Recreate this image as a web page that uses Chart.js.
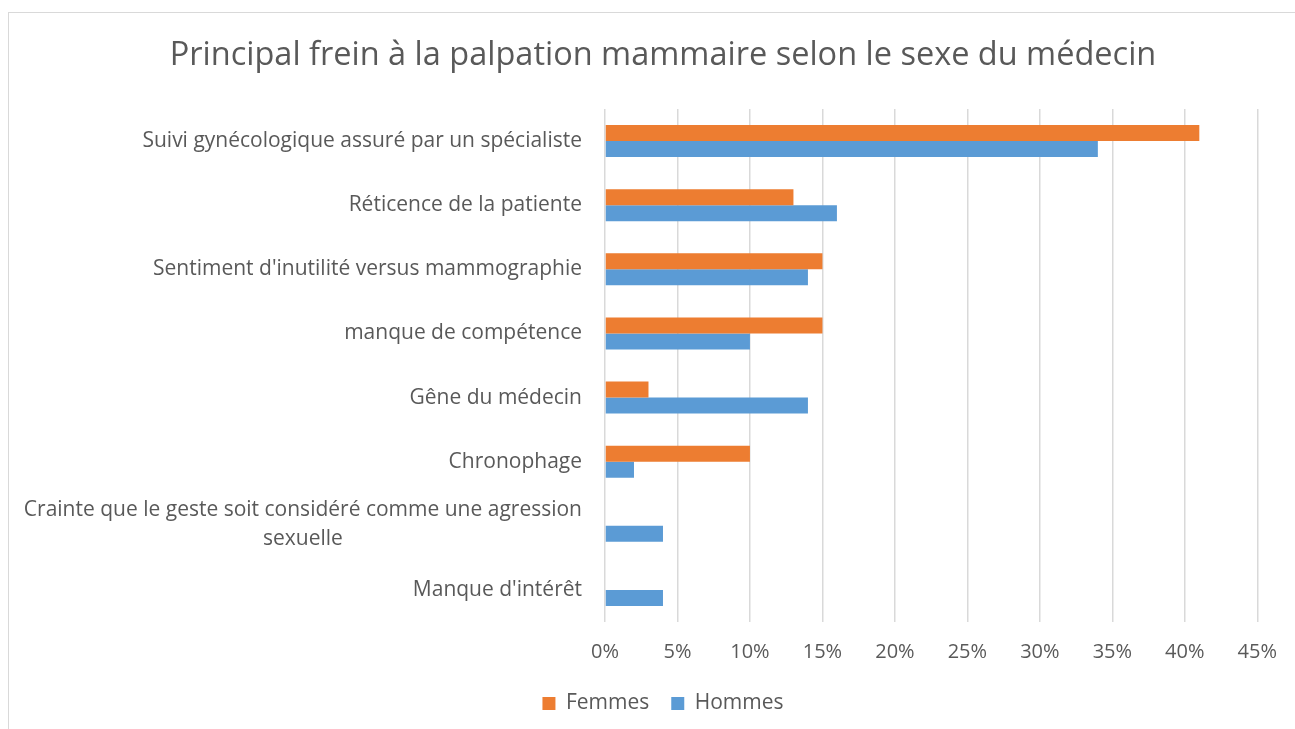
<!DOCTYPE html>
<html>
<head>
<meta charset="utf-8">
<script src="https://cdn.jsdelivr.net/npm/chart.js@4/dist/chart.umd.min.js"></script>
<style>
  html, body { margin:0; padding:0; background:#fff; overflow:hidden; }
  #frame { position:absolute; left:8px; top:12px; width:1400px; height:800px; border:1.5px solid #d9d9d9; box-sizing:border-box; }
  #wrap { position:absolute; left:0; top:0; width:1295px; height:729px; }
</style>
</head>
<body>
<div id="frame"></div>
<div id="wrap"><canvas id="c" width="1295" height="729"></canvas></div>
<script>
const categories = [
  "Suivi gynécologique assuré par un spécialiste",
  "Réticence de la patiente",
  "Sentiment d'inutilité versus mammographie",
  "manque de compétence",
  "Gêne du médecin",
  "Chronophage",
  ["Crainte que le geste soit considéré comme une agression", "sexuelle"],
  "Manque d'intérêt"
];
const femmes = [41, 13, 15, 15, 3, 10, 0, 0];
const hommes = [34, 16, 14, 10, 14, 2, 4, 4];
const xTicks = [0, 5, 10, 15, 20, 25, 30, 35, 40, 45];

const FONT = "'Open Sans', sans-serif";
const TXT = '#595959';
const LABEL_SIZE = 21;

// centre-aligned multi-line y labels (Excel style)
const centeredLabels = {
  id: 'centeredLabels',
  afterDraw(chart) {
    const y = chart.scales.y;
    const ctx = chart.ctx;
    ctx.save();
    ctx.font = LABEL_SIZE + "px " + FONT;
    ctx.fillStyle = TXT;
    ctx.textBaseline = 'middle';
    categories.forEach((lab, i) => {
      if (!Array.isArray(lab)) return;
      const right = y.right - y.options.ticks.padding;
      const widths = lab.map(l => ctx.measureText(l).width);
      const maxW = Math.max(...widths);
      const cx = right - maxW / 2;
      const lh = 29;
      const cy = y.getPixelForTick(i) - 1;
      ctx.textAlign = 'center';
      lab.forEach((l, k) => {
        ctx.fillText(l, cx, cy + (k - (lab.length - 1) / 2) * lh);
      });
    });
    ctx.restore();
  }
};

new Chart(document.getElementById('c'), {
  type: 'bar',
  data: {
    labels: categories,
    datasets: [
      { label: 'Femmes', data: femmes, backgroundColor: '#ED7D31', categoryPercentage: 0.5, barPercentage: 1 },
      { label: 'Hommes', data: hommes, backgroundColor: '#5B9BD5', categoryPercentage: 0.5, barPercentage: 1 }
    ]
  },
  options: {
    indexAxis: 'y',
    responsive: false,
    animation: false,
    devicePixelRatio: 1,
    layout: { padding: { left: 68, right: 37, top: 0, bottom: 5 } },
    plugins: {
      title: {
        display: true,
        text: 'Principal frein à la palpation mammaire selon le sexe du médecin',
        color: TXT,
        font: { family: FONT, size: 32.5, weight: 'normal' },
        padding: { top: 36, bottom: 34 }
      },
      legend: {
        position: 'bottom',
        labels: {
          color: TXT,
          font: { family: FONT, size: 21 },
          boxWidth: 13, boxHeight: 13,
          padding: 22
        }
      },
      tooltip: { enabled: false }
    },
    scales: {
      x: {
        min: 0, max: 45,
        afterBuildTicks(s) { s.ticks = xTicks.map(v => ({ value: v })); },
        afterFit(s) { s.height = 49; },
        grid: { color: '#d9d9d9', lineWidth: 1.5, drawTicks: false },
        border: { display: false },
        ticks: {
          color: TXT,
          font: { family: FONT, size: 20 },
          padding: 18,
          callback: v => v + '%'
        }
      },
      y: {
        afterFit(s) { s.width = 605 - 68; },
        grid: { display: false, drawTicks: false },
        border: { display: false },
        ticks: {
          color: (c) => Array.isArray(categories[c.index]) ? 'rgba(0,0,0,0)' : TXT,
          font: { family: FONT, size: LABEL_SIZE },
          padding: 23,
          autoSkip: false
        }
      }
    }
  },
  plugins: [centeredLabels]
});
</script>
</body>
</html>
